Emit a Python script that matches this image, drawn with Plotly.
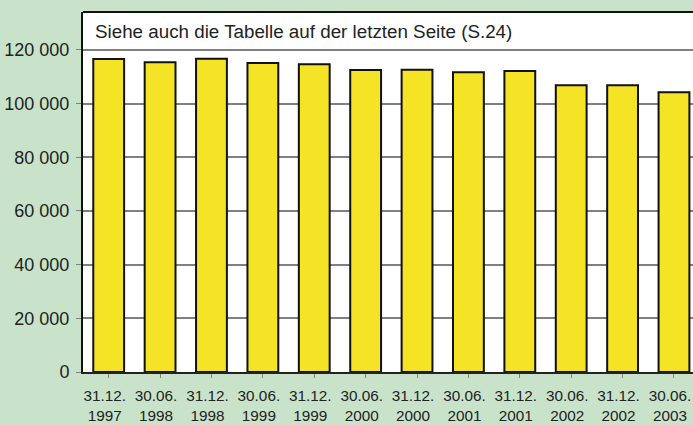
import plotly.graph_objects as go

categories = ["31.12.<br>1997", "30.06.<br>1998", "31.12.<br>1998", "30.06.<br>1999",
              "31.12.<br>1999", "30.06.<br>2000", "31.12.<br>2000", "30.06.<br>2001",
              "31.12.<br>2001", "30.06.<br>2002", "31.12.<br>2002", "30.06.<br>2003"]
values = [116650, 115380, 116760, 115160, 114640, 112550, 112660, 111660,
          112170, 106820, 106820, 104210]
y_ticks = [0, 20000, 40000, 60000, 80000, 100000, 120000]
y_tick_labels = ["0", "20 000", "40 000", "60 000", "80 000", "100 000", "120 000"]
note = "Siehe auch die Tabelle auf der letzten Seite (S.24)"

fig = go.Figure(go.Bar(
    x=list(range(len(categories))), y=values,
    marker=dict(color="#F5E326", line=dict(color="#111111", width=2)),
    width=0.6,
))

fig.update_layout(
    width=693, height=425,
    margin=dict(l=83, r=0, t=12, b=53, autoexpand=False),
    paper_bgcolor="#C9E2CA", plot_bgcolor="#FFFFFF",
    showlegend=False,
    font=dict(family="Liberation Sans, Arial, sans-serif", color="#222222"),
)
fig.update_xaxes(
    range=[-0.5, 11.37], tickmode="array", tickvals=list(range(len(categories))),
    ticktext=categories, tickfont=dict(size=15.3), automargin=False,
    ticklabeloverflow="allow", ticklabelshift=-4, ticklabelstandoff=5,
    showgrid=False, showline=True, linecolor="#222222", linewidth=2,
    ticks="outside", ticklen=4, tickcolor="#808080", tickson="boundaries",
)
fig.update_yaxes(
    range=[0, 134140], tickmode="array", tickvals=y_ticks, ticktext=y_tick_labels,
    tickfont=dict(size=18), automargin=False, ticklabelstandoff=3,
    showgrid=True, gridcolor="#808080", gridwidth=1.5,
    zeroline=False, showline=True, linecolor="#111111", linewidth=2,
    ticks="outside", ticklen=5, tickcolor="#808080",
)
fig.add_shape(type="line", xref="paper", yref="paper", x0=0, x1=1, y0=1, y1=1,
              line=dict(color="#111111", width=2))
fig.add_annotation(text=note, xref="paper", yref="paper", x=10/610, y=(372.5-32)/360.5,
                   xanchor="left", yanchor="middle", showarrow=False,
                   font=dict(size=18.8, color="#222222"))

fig.write_html("out.html", config={"displayModeBar": False},
               post_script="document.body.style.margin='0';document.body.style.overflow='hidden';")
